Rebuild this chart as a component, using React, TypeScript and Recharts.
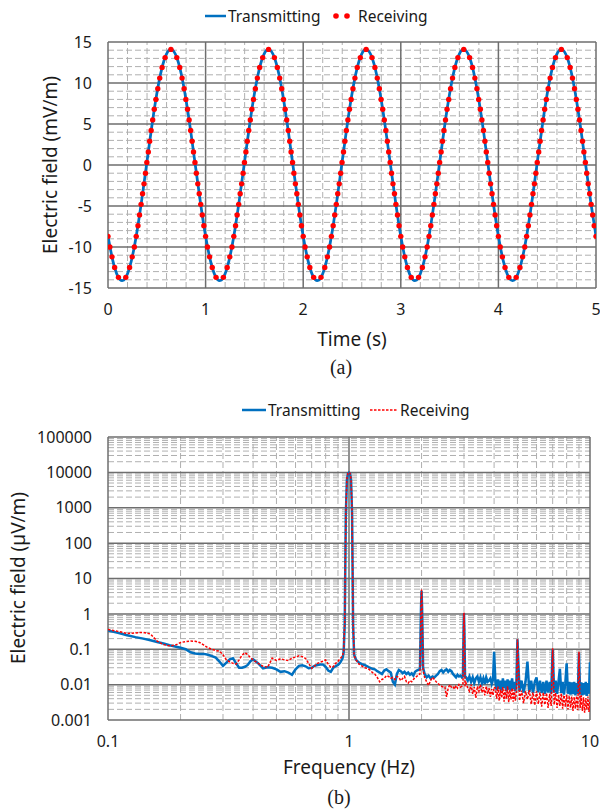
import React from 'react';
import { ComposedChart, Line, XAxis, YAxis, ReferenceLine } from 'recharts';

const FONT = '"Noto Sans", "Open Sans", sans-serif';
const SERIF = '"Liberation Serif", "Times New Roman", serif';
const BLUE = '#0070C0';
const RED = '#FF0000';
const MAJOR = '#6E6E6E';
const MINOR = '#B0B0B0';
const TEXT = '#1A1A1A';

// ---------- (a) time domain ----------
const timeTicks = [0, 1, 2, 3, 4, 5];
const fieldTicks = [-15, -10, -5, 0, 5, 10, 15];

const txTime = [
  0, 0.05, 0.1, 0.15, 0.2, 0.25, 0.3, 0.35, 0.4, 0.45, 0.5, 0.55, 0.6, 0.65, 0.7, 0.75, 0.8, 0.85, 0.9, 0.95,
  1, 1.05, 1.1, 1.15, 1.2, 1.25, 1.3, 1.35, 1.4, 1.45, 1.5, 1.55, 1.6, 1.65, 1.7, 1.75, 1.8, 1.85, 1.9, 1.95,
  2, 2.05, 2.1, 2.15, 2.2, 2.25, 2.3, 2.35, 2.4, 2.45, 2.5, 2.55, 2.6, 2.65, 2.7, 2.75, 2.8, 2.85, 2.9, 2.95,
  3, 3.05, 3.1, 3.15, 3.2, 3.25, 3.3, 3.35, 3.4, 3.45, 3.5, 3.55, 3.6, 3.65, 3.7, 3.75, 3.8, 3.85, 3.9, 3.95,
  4, 4.05, 4.1, 4.15, 4.2, 4.25, 4.3, 4.35, 4.4, 4.45, 4.5, 4.55, 4.6, 4.65, 4.7, 4.75, 4.8, 4.85, 4.9, 4.95,
  5,
];
const txField = [
  -8.68, -11.69, -13.55, -14.09, -13.25, -11.12, -7.89, -3.89, 0.49, 4.82, 8.68, 11.69, 13.55, 14.09, 13.25, 11.12, 7.89, 3.89, -0.49, -4.82,
  -8.68, -11.69, -13.55, -14.09, -13.25, -11.12, -7.89, -3.89, 0.49, 4.82, 8.68, 11.69, 13.55, 14.09, 13.25, 11.12, 7.89, 3.89, -0.49, -4.82,
  -8.68, -11.69, -13.55, -14.09, -13.25, -11.12, -7.89, -3.89, 0.49, 4.82, 8.68, 11.69, 13.55, 14.09, 13.25, 11.12, 7.89, 3.89, -0.49, -4.82,
  -8.68, -11.69, -13.55, -14.09, -13.25, -11.12, -7.89, -3.89, 0.49, 4.82, 8.68, 11.69, 13.55, 14.09, 13.25, 11.12, 7.89, 3.89, -0.49, -4.82,
  -8.68, -11.69, -13.55, -14.09, -13.25, -11.12, -7.89, -3.89, 0.49, 4.82, 8.68, 11.69, 13.55, 14.09, 13.25, 11.12, 7.89, 3.89, -0.49, -4.82,
  -8.68,
];

const rxTime = [
  0, 0.019, 0.041, 0.068, 0.107, 0.182, 0.221, 0.248, 0.27, 0.289, 0.307, 0.323, 0.339, 0.354, 0.369, 0.384, 0.398, 0.413, 0.427, 0.442, 0.458, 0.474, 0.491, 0.51, 0.53, 0.554, 0.585, 0.645, 0.705, 0.735, 0.759, 0.78, 0.798, 0.815, 0.831, 0.847, 0.862, 0.876, 0.891, 0.905, 0.92, 0.935, 0.95, 0.966, 0.982,
  1, 1.019, 1.041, 1.068, 1.107, 1.182, 1.221, 1.248, 1.27, 1.289, 1.307, 1.323, 1.339, 1.354, 1.369, 1.384, 1.398, 1.413, 1.427, 1.442, 1.458, 1.474, 1.491, 1.51, 1.53, 1.554, 1.585, 1.645, 1.705, 1.735, 1.759, 1.78, 1.798, 1.815, 1.831, 1.847, 1.862, 1.876, 1.891, 1.905, 1.92, 1.935, 1.95, 1.966, 1.982,
  2, 2.019, 2.041, 2.068, 2.107, 2.182, 2.221, 2.248, 2.27, 2.289, 2.307, 2.323, 2.339, 2.354, 2.369, 2.384, 2.398, 2.413, 2.427, 2.442, 2.458, 2.474, 2.491, 2.51, 2.53, 2.554, 2.585, 2.645, 2.705, 2.735, 2.759, 2.78, 2.798, 2.815, 2.831, 2.847, 2.862, 2.876, 2.891, 2.905, 2.92, 2.935, 2.95, 2.966, 2.982,
  3, 3.019, 3.041, 3.068, 3.107, 3.182, 3.221, 3.248, 3.27, 3.289, 3.307, 3.323, 3.339, 3.354, 3.369, 3.384, 3.398, 3.413, 3.427, 3.442, 3.458, 3.474, 3.491, 3.51, 3.53, 3.554, 3.585, 3.645, 3.705, 3.735, 3.759, 3.78, 3.798, 3.815, 3.831, 3.847, 3.862, 3.876, 3.891, 3.905, 3.92, 3.935, 3.95, 3.966, 3.982,
  4, 4.019, 4.041, 4.068, 4.107, 4.182, 4.221, 4.248, 4.27, 4.289, 4.307, 4.323, 4.339, 4.354, 4.369, 4.384, 4.398, 4.413, 4.427, 4.442, 4.458, 4.474, 4.491, 4.51, 4.53, 4.554, 4.585, 4.645, 4.705, 4.735, 4.759, 4.78, 4.798, 4.815, 4.831, 4.847, 4.862, 4.876, 4.891, 4.905, 4.92, 4.935, 4.95, 4.966, 4.982,
  5,
];
const rxField = [
  -8.7, -10.0, -11.2, -12.5, -13.7, -13.7, -12.5, -11.2, -10.0, -8.7, -7.4, -6.1, -4.8, -3.5, -2.3, -1.0, 0.3, 1.6, 2.9, 4.2, 5.5, 6.8, 8.0, 9.3, 10.6, 11.9, 13.1, 14.1, 13.1, 11.9, 10.6, 9.3, 8.0, 6.8, 5.5, 4.2, 2.9, 1.6, 0.3, -1.0, -2.3, -3.5, -4.8, -6.1, -7.4,
  -8.7, -10.0, -11.2, -12.5, -13.7, -13.7, -12.5, -11.2, -10.0, -8.7, -7.4, -6.1, -4.8, -3.5, -2.3, -1.0, 0.3, 1.6, 2.9, 4.2, 5.5, 6.8, 8.0, 9.3, 10.6, 11.9, 13.1, 14.1, 13.1, 11.9, 10.6, 9.3, 8.0, 6.8, 5.5, 4.2, 2.9, 1.6, 0.3, -1.0, -2.3, -3.5, -4.8, -6.1, -7.4,
  -8.7, -10.0, -11.2, -12.5, -13.7, -13.7, -12.5, -11.2, -10.0, -8.7, -7.4, -6.1, -4.8, -3.5, -2.3, -1.0, 0.3, 1.6, 2.9, 4.2, 5.5, 6.8, 8.0, 9.3, 10.6, 11.9, 13.1, 14.1, 13.1, 11.9, 10.6, 9.3, 8.0, 6.8, 5.5, 4.2, 2.9, 1.6, 0.3, -1.0, -2.3, -3.5, -4.8, -6.1, -7.4,
  -8.7, -10.0, -11.2, -12.5, -13.7, -13.7, -12.5, -11.2, -10.0, -8.7, -7.4, -6.1, -4.8, -3.5, -2.3, -1.0, 0.3, 1.6, 2.9, 4.2, 5.5, 6.8, 8.0, 9.3, 10.6, 11.9, 13.1, 14.1, 13.1, 11.9, 10.6, 9.3, 8.0, 6.8, 5.5, 4.2, 2.9, 1.6, 0.3, -1.0, -2.3, -3.5, -4.8, -6.1, -7.4,
  -8.7, -10.0, -11.2, -12.5, -13.7, -13.7, -12.5, -11.2, -10.0, -8.7, -7.4, -6.1, -4.8, -3.5, -2.3, -1.0, 0.3, 1.6, 2.9, 4.2, 5.5, 6.8, 8.0, 9.3, 10.6, 11.9, 13.1, 14.1, 13.1, 11.9, 10.6, 9.3, 8.0, 6.8, 5.5, 4.2, 2.9, 1.6, 0.3, -1.0, -2.3, -3.5, -4.8, -6.1, -7.4,
  -8.7,
];

// ---------- (b) frequency domain ----------
const freqTicks = [0.1, 1, 10];
const spectrumTicks = [0.001, 0.01, 0.1, 1, 10, 100, 1000, 10000, 100000];

const freq = [
  0.10, 0.11, 0.12, 0.13, 0.14, 0.15, 0.16, 0.17, 0.18, 0.19,
  0.20, 0.21, 0.22, 0.23, 0.24, 0.25, 0.26, 0.27, 0.28, 0.29,
  0.30, 0.31, 0.32, 0.33, 0.34, 0.35, 0.36, 0.37, 0.38, 0.39,
  0.40, 0.42, 0.44, 0.46, 0.48, 0.50, 0.52, 0.54, 0.56, 0.58,
  0.60, 0.62, 0.64, 0.66, 0.68, 0.70, 0.72, 0.74, 0.76, 0.78,
  0.80, 0.82, 0.84, 0.86, 0.88, 0.90, 0.92, 0.94,
  0.95, 0.96, 0.97, 0.98, 0.99, 1.00, 1.01, 1.02, 1.03, 1.04, 1.05,
  1.07, 1.10, 1.13, 1.16, 1.19, 1.22, 1.25, 1.28, 1.31, 1.34,
  1.37, 1.40, 1.43, 1.46, 1.49, 1.52, 1.55, 1.58, 1.61, 1.64,
  1.67, 1.70, 1.73, 1.76, 1.79, 1.82, 1.85, 1.88, 1.91, 1.94,
  1.97, 1.99, 2.00, 2.01, 2.03,
  2.06, 2.10, 2.14, 2.18, 2.22, 2.26, 2.30, 2.34, 2.38, 2.42,
  2.46, 2.50, 2.54, 2.58, 2.62, 2.66, 2.70, 2.74, 2.78, 2.82,
  2.86, 2.90, 2.94, 2.97, 2.99, 3.00, 3.01, 3.03,
  3.06, 3.11, 3.16, 3.21, 3.26, 3.31, 3.36, 3.41, 3.46, 3.51,
  3.56, 3.61, 3.66, 3.71, 3.76, 3.81, 3.86, 3.91, 3.96, 4.00,
  4.05, 4.10, 4.15, 4.20, 4.25, 4.30, 4.35, 4.40, 4.45, 4.50,
  4.55, 4.60, 4.65, 4.70, 4.75, 4.80, 4.85, 4.90, 4.95, 5.00,
  5.1, 5.2, 5.3, 5.4, 5.5, 5.6, 5.7, 5.8, 5.9, 6.0,
  6.1, 6.2, 6.3, 6.4, 6.5, 6.6, 6.7, 6.8, 6.9, 7.0,
  7.1, 7.2, 7.3, 7.4, 7.5, 7.6, 7.7, 7.8, 7.9, 8.0,
  8.1, 8.2, 8.3, 8.4, 8.5, 8.6, 8.7, 8.8, 8.9, 9.0,
  9.1, 9.2, 9.3, 9.4, 9.5, 9.6, 9.7, 9.8, 9.9, 10.0,
];

const txSpectrum = [
  0.34, 0.29, 0.25, 0.22, 0.20, 0.18, 0.16, 0.145, 0.13, 0.12,
  0.11, 0.10, 0.082, 0.076, 0.074, 0.074, 0.07, 0.064, 0.058, 0.045,
  0.034, 0.042, 0.052, 0.056, 0.04, 0.03, 0.03, 0.032, 0.036, 0.046,
  0.052, 0.04, 0.029, 0.031, 0.03, 0.027, 0.023, 0.024, 0.022, 0.019,
  0.027, 0.034, 0.035, 0.033, 0.029, 0.03, 0.034, 0.036, 0.037, 0.037,
  0.032, 0.025, 0.023, 0.03, 0.033, 0.036, 0.042, 0.055,
  0.08, 0.5, 600, 6000, 9300, 9800, 9300, 6000, 600, 0.5, 0.07,
  0.05, 0.042, 0.038, 0.036, 0.033, 0.03, 0.028, 0.027, 0.024, 0.022,
  0.02, 0.025, 0.027, 0.024, 0.022, 0.012, 0.01, 0.02, 0.026, 0.024,
  0.021, 0.023, 0.02, 0.022, 0.019, 0.021, 0.018, 0.023, 0.025, 0.026,
  0.028, 1.5, 4.5, 1.5, 0.03,
  0.02, 0.016, 0.018, 0.015, 0.017, 0.016, 0.018, 0.02, 0.024, 0.026,
  0.022, 0.025, 0.027, 0.023, 0.026, 0.024, 0.02, 0.018, 0.016, 0.019,
  0.017, 0.018, 0.016, 0.017, 0.4, 1.05, 0.4, 0.017,
  0.016, 0.013, 0.017, 0.012, 0.016, 0.011, 0.015, 0.017, 0.012, 0.016,
  0.011, 0.015, 0.0105, 0.016, 0.012, 0.013, 0.015, 0.0105, 0.014, 0.085,
  0.012, 0.007, 0.014, 0.0075, 0.013, 0.0068, 0.015, 0.008, 0.013, 0.0065,
  0.014, 0.0072, 0.013, 0.0068, 0.015, 0.0075, 0.012, 0.0065, 0.011, 0.19,
  0.0065, 0.013, 0.006, 0.012, 0.045, 0.0062, 0.013, 0.0058, 0.012, 0.016,
  0.006, 0.013, 0.0058, 0.012, 0.0055, 0.013, 0.006, 0.012, 0.0056, 0.1,
  0.006, 0.013, 0.0055, 0.012, 0.028, 0.0058, 0.012, 0.0052, 0.011, 0.04,
  0.0055, 0.012, 0.0052, 0.0115, 0.0054, 0.012, 0.005, 0.011, 0.0055, 0.08,
  0.0052, 0.0115, 0.005, 0.011, 0.0052, 0.012, 0.0048, 0.011, 0.0055, 0.043,
];

const rxSpectrum = [
  0.36, 0.32, 0.28, 0.29, 0.30, 0.27, 0.17, 0.135, 0.125, 0.13,
  0.155, 0.165, 0.17, 0.168, 0.155, 0.13, 0.11, 0.1, 0.092, 0.088,
  0.07, 0.05, 0.044, 0.04, 0.038, 0.05, 0.068, 0.08, 0.07, 0.058,
  0.05, 0.04, 0.033, 0.031, 0.056, 0.048, 0.054, 0.05, 0.048, 0.056,
  0.06, 0.065, 0.062, 0.055, 0.04, 0.029, 0.034, 0.04, 0.043, 0.046,
  0.05, 0.038, 0.031, 0.032, 0.04, 0.045, 0.055, 0.065,
  0.09, 0.6, 700, 6500, 9500, 10000, 9500, 6500, 700, 0.6, 0.065,
  0.05, 0.038, 0.034, 0.03, 0.029, 0.026, 0.022, 0.02, 0.016, 0.012,
  0.014, 0.015, 0.018, 0.017, 0.015, 0.016, 0.014, 0.017, 0.016, 0.013,
  0.015, 0.017, 0.012, 0.011, 0.013, 0.012, 0.014, 0.016, 0.017, 0.019,
  0.02, 1.8, 4.9, 1.8, 0.025,
  0.016, 0.012, 0.0095, 0.013, 0.016, 0.014, 0.012, 0.011, 0.0095, 0.009,
  0.0085, 0.0085, 0.0045, 0.008, 0.01, 0.0085, 0.009, 0.0075, 0.0095, 0.008,
  0.01, 0.0085, 0.009, 0.01, 0.45, 1.1, 0.45, 0.009,
  0.011, 0.008, 0.0065, 0.01, 0.0055, 0.0085, 0.0042, 0.009, 0.0065, 0.01,
  0.006, 0.0085, 0.005, 0.009, 0.0055, 0.008, 0.0045, 0.0075, 0.005, 0.0085,
  0.008, 0.004, 0.0088, 0.0035, 0.0075, 0.0042, 0.0085, 0.0033, 0.0072, 0.004,
  0.009, 0.0032, 0.007, 0.0038, 0.008, 0.0033, 0.0072, 0.0035, 0.006, 0.19,
  0.0035, 0.0068, 0.003, 0.0065, 0.0038, 0.007, 0.0028, 0.006, 0.0026, 0.0065,
  0.0028, 0.006, 0.0024, 0.006, 0.0027, 0.0058, 0.0022, 0.0055, 0.0025, 0.107,
  0.0027, 0.0058, 0.0022, 0.0052, 0.0025, 0.0056, 0.0021, 0.005, 0.0024, 0.0052,
  0.002, 0.0048, 0.0022, 0.0046, 0.0018, 0.0045, 0.0021, 0.0048, 0.0019, 0.085,
  0.0022, 0.005, 0.0018, 0.0044, 0.0016, 0.0042, 0.002, 0.0046, 0.0017, 0.0038,
];

// ---------- derived tables ----------
const txData = txTime.map((t, i) => ({ t, v: txField[i] }));
const rxData = rxTime.map((t, i) => ({ t, v: rxField[i] }));
const spectrumData = freq.map((f, i) => ({ f, tx: txSpectrum[i], rx: rxSpectrum[i] }));

// grid values (a)
const topMinorX: number[] = [];
for (let i = 1; i < 25; i++) if (i % 5 !== 0) topMinorX.push(+(i * 0.2).toFixed(1));
const topMinorY: number[] = [];
for (let v = -14; v <= 14; v++) if (v % 5 !== 0) topMinorY.push(v);

// grid values (b)
const botMinorX: number[] = [];
[0.1, 1].forEach((d) => { for (let k = 2; k <= 9; k++) botMinorX.push(+(k * d).toPrecision(3)); });
const botMinorY: number[] = [];
spectrumTicks.slice(0, -1).forEach((d) => { for (let k = 2; k <= 9; k++) botMinorY.push(+(k * d).toPrecision(3)); });

const tickStyle = { fontSize: 16, fill: TEXT, fontFamily: FONT };

function grid(minX: number[], minY: number[], majX: number[], majY: number[], pre: string) {
  const out: React.ReactNode[] = [];
  minX.forEach((v) => out.push(<ReferenceLine key={pre + 'mx' + v} x={v} stroke={MINOR} strokeWidth={1} strokeDasharray="6 3" />));
  minY.forEach((v) => out.push(<ReferenceLine key={pre + 'my' + v} y={v} stroke={MINOR} strokeWidth={1} strokeDasharray="6 3" />));
  majX.forEach((v) => out.push(<ReferenceLine key={pre + 'Mx' + v} x={v} stroke={MAJOR} strokeWidth={1.5} />));
  majY.forEach((v) => out.push(<ReferenceLine key={pre + 'My' + v} y={v} stroke={MAJOR} strokeWidth={1.5} />));
  return out;
}

function Txt({ x, y, size, children, serif, rotate }: { x: number; y: number; size: number; children: React.ReactNode; serif?: boolean; rotate?: boolean }) {
  return (
    <div
      style={{
        position: 'absolute', left: x - 200, top: y - size, width: 400, height: size * 2,
        lineHeight: `${size * 2}px`, textAlign: 'center', fontSize: size,
        fontFamily: serif ? SERIF : FONT, color: TEXT, whiteSpace: 'nowrap',
        transform: rotate ? 'rotate(-90deg)' : undefined,
      }}
    >
      {children}
    </div>
  );
}

function LTxt({ x, y, size, children }: { x: number; y: number; size: number; children: React.ReactNode }) {
  return (
    <div style={{ position: 'absolute', left: x, top: y - size, height: size * 2, lineHeight: `${size * 2}px`, fontSize: size, fontFamily: FONT, color: TEXT, whiteSpace: 'nowrap' }}>
      {children}
    </div>
  );
}

export default function App() {
  return (
    <div style={{ position: 'absolute', left: 0, top: 0, width: 600, height: 812, background: '#fff', overflow: 'hidden' }}>
      {/* legend (a) */}
      <svg style={{ position: 'absolute', left: 0, top: 0 }} width={600} height={30}>
        <line x1={205} y1={16} x2={226} y2={16} stroke={BLUE} strokeWidth={2.5} />
        <circle cx={336} cy={16} r={2.8} fill={RED} />
        <circle cx={347} cy={16} r={2.8} fill={RED} />
      </svg>
      <LTxt x={228} y={16} size={15.5}>Transmitting</LTxt>
      <LTxt x={358} y={16} size={15.5}>Receiving</LTxt>

      <div style={{ position: 'absolute', left: 0, top: 0 }}>
        <ComposedChart width={600} height={330} margin={{ top: 42, right: 4, bottom: 0, left: 0 }}>
          <XAxis type="number" dataKey="t" domain={[0, 5]} ticks={timeTicks} allowDataOverflow height={42}
            axisLine={false} tickLine={false} tickSize={6} tickMargin={10} tick={tickStyle} interval={0} />
          <YAxis type="number" domain={[-15, 15]} ticks={fieldTicks} allowDataOverflow width={108}
            axisLine={false} tickLine={false} tickSize={6} tickMargin={10} tick={tickStyle} interval={0} />
          {grid(topMinorX, topMinorY, timeTicks, fieldTicks, 'a')}
          <Line data={txData} dataKey="v" type="natural" stroke={BLUE} strokeWidth={2.75} dot={false}
            isAnimationActive={false} />
          <Line data={rxData} dataKey="v" stroke="none" strokeWidth={0}
            dot={{ r: 2.7, fill: RED, stroke: RED, strokeWidth: 0 }} isAnimationActive={false} />
        </ComposedChart>
      </div>
      <Txt x={50} y={165} size={19} rotate>Electric field (mV/m)</Txt>
      <Txt x={352} y={339} size={19}>Time (s)</Txt>
      <Txt x={341} y={367} size={20} serif>(a)</Txt>

      {/* legend (b) */}
      <svg style={{ position: 'absolute', left: 0, top: 395 }} width={600} height={30}>
        <line x1={242} y1={15} x2={266} y2={15} stroke={BLUE} strokeWidth={2.5} />
        <line x1={370} y1={15} x2={398} y2={15} stroke={RED} strokeWidth={1.5} strokeDasharray="2.5 1.5" />
      </svg>
      <LTxt x={268} y={410} size={15.5}>Transmitting</LTxt>
      <LTxt x={400} y={410} size={15.5}>Receiving</LTxt>

      <div style={{ position: 'absolute', left: 0, top: 395 }}>
        <ComposedChart width={600} height={365} data={spectrumData} margin={{ top: 42, right: 10, bottom: 0, left: 0 }}>
          <XAxis type="number" dataKey="f" scale="log" domain={[0.1, 10]} ticks={freqTicks} allowDataOverflow height={40}
            axisLine={false} tickLine={false} tickSize={6} tickMargin={10} tick={tickStyle} interval={0} />
          <YAxis type="number" scale="log" domain={[0.001, 100000]} ticks={spectrumTicks} allowDataOverflow width={108}
            axisLine={false} tickLine={false} tickSize={6} tickMargin={10} tick={tickStyle} interval={0} />
          {grid(botMinorX, botMinorY, freqTicks, spectrumTicks, 'b')}
          <Line dataKey="tx" type="linear" stroke={BLUE} strokeWidth={2.5} dot={false} isAnimationActive={false} />
          <Line dataKey="rx" type="linear" stroke={RED} strokeWidth={1.5} strokeDasharray="2.5 1.5" dot={false}
            isAnimationActive={false} />
        </ComposedChart>
      </div>
      <Txt x={18} y={578} size={19} rotate>Electric field (µV/m)</Txt>
      <Txt x={349} y={767} size={19}>Frequency (Hz)</Txt>
      <Txt x={339} y={797} size={20} serif>(b)</Txt>
    </div>
  );
}
